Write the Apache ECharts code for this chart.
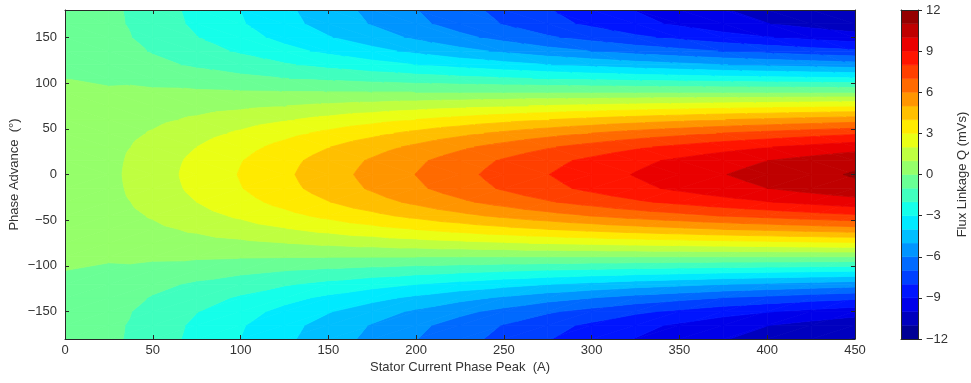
<!DOCTYPE html>
<html>
<head>
<meta charset="utf-8">
<script src="https://cdn.jsdelivr.net/npm/echarts@6/dist/echarts.min.js"></script>
<style>
html,body{margin:0;padding:0;background:#fff;}
#chart{width:971px;height:383px;}
</style>
</head>
<body>
<div id="chart"></div>
<script>
// ---- data ----
const currents = [0, 25, 50, 75, 100, 125, 150, 175, 200, 225, 250, 275, 300, 325, 350, 375, 400, 425, 450];
const phases = [-180, -165, -150, -135, -120, -105, -90, -75, -60, -45, -30, -15, 0, 15, 30, 45, 60, 75, 90, 105, 120, 135, 150, 165, 180];

// flux linkage Q (mVs) along the current grid, one row per phase advance
const qM180 = [0, -0.76, -1.51, -2.27, -3.01, -3.80, -4.55, -5.25, -5.97, -6.65, -7.30, -7.95, -8.48, -9.03, -9.48, -9.95, -10.33, -10.70, -11.05];
const qM165 = [0, -0.73, -1.46, -2.19, -2.91, -3.67, -4.39, -5.07, -5.77, -6.42, -7.05, -7.68, -8.19, -8.72, -9.16, -9.61, -9.98, -10.34, -10.67];
const qM150 = [0, -0.66, -1.31, -1.97, -2.61, -3.29, -3.94, -4.55, -5.17, -5.76, -6.32, -6.88, -7.34, -7.82, -8.21, -8.62, -8.95, -9.27, -9.57];
const qM135 = [0, -0.54, -1.07, -1.61, -2.13, -2.69, -3.22, -3.71, -4.22, -4.70, -5.16, -5.62, -6.00, -6.39, -6.70, -7.04, -7.30, -7.57, -7.81];
const qM120 = [0, -0.38, -0.76, -1.14, -1.51, -1.90, -2.28, -2.63, -2.99, -3.33, -3.65, -3.98, -4.24, -4.52, -4.74, -4.98, -5.17, -5.35, -5.53];
const qM105 = [0, -0.15, -0.33, -0.54, -0.75, -0.98, -1.18, -1.36, -1.55, -1.72, -1.89, -2.06, -2.20, -2.34, -2.45, -2.58, -2.67, -2.77, -2.86];
const qM90  = [0, 0.12, 0.16, 0.14, 0.08, 0.05, 0.03, 0.01, 0, 0, 0, 0, 0, 0, 0, 0, 0, 0, 0];
const qM75  = [0, 0.20, 0.40, 0.60, 0.79, 0.99, 1.19, 1.37, 1.56, 1.74, 1.91, 2.07, 2.21, 2.34, 2.46, 2.58, 2.68, 2.78, 2.87];
const qM60  = [0, 0.39, 0.77, 1.16, 1.53, 1.91, 2.29, 2.66, 3.01, 3.36, 3.69, 3.99, 4.27, 4.53, 4.76, 4.99, 5.18, 5.37, 5.55];
const qM45  = [0, 0.54, 1.09, 1.63, 2.16, 2.70, 3.24, 3.75, 4.26, 4.75, 5.21, 5.64, 6.03, 6.41, 6.73, 7.05, 7.32, 7.59, 7.85];
const qM30  = [0, 0.67, 1.33, 2.00, 2.65, 3.31, 3.97, 4.60, 5.21, 5.82, 6.38, 6.91, 7.39, 7.85, 8.24, 8.63, 8.96, 9.29, 9.61];
const qM15  = [0, 0.74, 1.49, 2.23, 2.96, 3.69, 4.42, 5.13, 5.82, 6.49, 7.12, 7.71, 8.24, 8.75, 9.20, 9.63, 10.00, 10.37, 10.72];
const q0    = [0, 0.77, 1.54, 2.31, 3.06, 3.82, 4.58, 5.31, 6.02, 6.72, 7.37, 7.98, 8.53, 9.06, 9.52, 9.97, 10.35, 10.73, 11.10];
const q15   = [0, 0.74, 1.49, 2.23, 2.96, 3.69, 4.42, 5.13, 5.82, 6.49, 7.12, 7.71, 8.24, 8.75, 9.20, 9.63, 10.00, 10.37, 10.72];
const q30   = [0, 0.67, 1.33, 2.00, 2.65, 3.31, 3.97, 4.60, 5.21, 5.82, 6.38, 6.91, 7.39, 7.85, 8.24, 8.63, 8.96, 9.29, 9.61];
const q45   = [0, 0.54, 1.09, 1.63, 2.16, 2.70, 3.24, 3.75, 4.26, 4.75, 5.21, 5.64, 6.03, 6.41, 6.73, 7.05, 7.32, 7.59, 7.85];
const q60   = [0, 0.39, 0.77, 1.16, 1.53, 1.91, 2.29, 2.66, 3.01, 3.36, 3.69, 3.99, 4.27, 4.53, 4.76, 4.99, 5.18, 5.37, 5.55];
const q75   = [0, 0.20, 0.40, 0.60, 0.79, 0.99, 1.19, 1.37, 1.56, 1.74, 1.91, 2.07, 2.21, 2.34, 2.46, 2.58, 2.68, 2.78, 2.87];
const q90   = [0, 0.12, 0.16, 0.14, 0.08, 0.05, 0.03, 0.01, 0, 0, 0, 0, 0, 0, 0, 0, 0, 0, 0];
const q105  = [0, -0.15, -0.33, -0.54, -0.75, -0.98, -1.18, -1.36, -1.55, -1.72, -1.89, -2.06, -2.20, -2.34, -2.45, -2.58, -2.67, -2.77, -2.86];
const q120  = [0, -0.38, -0.76, -1.14, -1.51, -1.90, -2.28, -2.63, -2.99, -3.33, -3.65, -3.98, -4.24, -4.52, -4.74, -4.98, -5.17, -5.35, -5.53];
const q135  = [0, -0.54, -1.07, -1.61, -2.13, -2.69, -3.22, -3.71, -4.22, -4.70, -5.16, -5.62, -6.00, -6.39, -6.70, -7.04, -7.30, -7.57, -7.81];
const q150  = [0, -0.66, -1.31, -1.97, -2.61, -3.29, -3.94, -4.55, -5.17, -5.76, -6.32, -6.88, -7.34, -7.82, -8.21, -8.62, -8.95, -9.27, -9.57];
const q165  = [0, -0.73, -1.46, -2.19, -2.91, -3.67, -4.39, -5.07, -5.77, -6.42, -7.05, -7.68, -8.19, -8.72, -9.16, -9.61, -9.98, -10.34, -10.67];
const q180  = [0, -0.76, -1.51, -2.27, -3.01, -3.80, -4.55, -5.25, -5.97, -6.65, -7.30, -7.95, -8.48, -9.03, -9.48, -9.95, -10.33, -10.70, -11.05];

// contour levels and tick labels
const levels = [-12, -11, -10, -9, -8, -7, -6, -5, -4, -3, -2, -1, 0, 1, 2, 3, 4, 5, 6, 7, 8, 9, 10, 11, 12];
const xTicks = [0, 50, 100, 150, 200, 250, 300, 350, 400, 450];
const yTicks = [-150, -100, -50, 0, 50, 100, 150];
const cbTicks = [-12, -9, -6, -3, 0, 3, 6, 9, 12];

// ---- styling ----
const bandColors = ['#000095', '#0000BF', '#0000EA', '#0015FF', '#0040FF', '#006AFF', '#0095FF', '#00BFFF',
  '#00EAFF', '#15FFEA', '#40FFBF', '#6AFF95', '#95FF6A', '#BFFF40', '#EAFF15', '#FFEA00',
  '#FFBF00', '#FF9500', '#FF6A00', '#FF4000', '#FF1500', '#EA0000', '#BF0000', '#950000'];

const fluxGrid = [qM180, qM165, qM150, qM135, qM120, qM105, qM90, qM75, qM60, qM45, qM30, qM15,
  q0, q15, q30, q45, q60, q75, q90, q105, q120, q135, q150, q165, q180];

const FONT = "'Liberation Sans', Arial, Helvetica, sans-serif";
const TXT = '#333333';
const LINE = '#262626';
const fmtMinus = v => String(v).replace('-', '\u2212');

function clipHalf(poly, f) {
  const out = [];
  const n = poly.length;
  for (let i = 0; i < n; i++) {
    const a = poly[i], b = poly[(i + 1) % n];
    const fa = f(a), fb = f(b);
    if (fa >= 0) out.push(a);
    if ((fa >= 0) !== (fb >= 0)) {
      const t = fa / (fa - fb);
      out.push([a[0] + t * (b[0] - a[0]), a[1] + t * (b[1] - a[1]), a[2] + t * (b[2] - a[2])]);
    }
  }
  return out;
}

const cells = [];
for (let j = 0; j < phases.length - 1; j++) {
  for (let i = 0; i < currents.length - 1; i++) cells.push([i, j]);
}
const cbData = bandColors.map((c, k) => [k]);

function renderCell(params, api) {
  const i = api.value(0), j = api.value(1);
  const P = (ii, jj) => [currents[ii], phases[jj], fluxGrid[jj][ii]];
  let tris;
  if (phases[j] >= 0) {
    // mirrored diagonal in the upper half keeps the picture symmetric
    tris = [[P(i, j), P(i + 1, j), P(i, j + 1)], [P(i + 1, j), P(i + 1, j + 1), P(i, j + 1)]];
  } else {
    tris = [[P(i, j), P(i + 1, j), P(i + 1, j + 1)], [P(i, j), P(i + 1, j + 1), P(i, j + 1)]];
  }
  const children = [];
  tris.forEach(tri => {
    const vals = tri.map(p => p[2]);
    const mn = Math.min.apply(null, vals), mx = Math.max.apply(null, vals);
    for (let k = 0; k < bandColors.length; k++) {
      const lo = levels[k], hi = levels[k + 1];
      if (hi < mn || lo > mx) continue;
      let poly = clipHalf(tri, p => p[2] - lo);
      if (poly.length < 3) continue;
      poly = clipHalf(poly, p => hi - p[2]);
      if (poly.length < 3) continue;
      const pts = poly.map(p => api.coord([p[0], p[1]]));
      let area = 0;
      for (let m = 0; m < pts.length; m++) {
        const a = pts[m], b = pts[(m + 1) % pts.length];
        area += a[0] * b[1] - b[0] * a[1];
      }
      if (Math.abs(area) < 0.02) continue;
      children.push({
        type: 'polygon', silent: true,
        shape: { points: pts },
        style: { fill: bandColors[k], stroke: bandColors[k], lineWidth: 0.8 }
      });
    }
  });
  return { type: 'group', children: children };
}

function renderBand(params, api) {
  const k = api.value(0);
  const p1 = api.coord([0, levels[k + 1]]);
  const p2 = api.coord([1, levels[k]]);
  return {
    type: 'rect', silent: true,
    shape: { x: p1[0], y: p1[1], width: p2[0] - p1[0], height: p2[1] - p1[1] },
    style: { fill: bandColors[k], stroke: bandColors[k], lineWidth: 0.5 }
  };
}

const lineOnly = {
  axisLine: { show: true, onZero: false, lineStyle: { color: LINE, width: 1 } },
  axisTick: { show: false }, axisLabel: { show: false }, splitLine: { show: false }
};

const chart = echarts.init(document.getElementById('chart'), null, { renderer: 'canvas' });
chart.setOption({
  animation: false,
  backgroundColor: '#ffffff',
  textStyle: { fontFamily: FONT },
  grid: [
    { left: 65, right: 116, top: 10, bottom: 44, containLabel: false, outerBoundsMode: 'none' },
    { left: 901, width: 17, top: 10, bottom: 44, containLabel: false, outerBoundsMode: 'none' }
  ],
  xAxis: [
    {
      gridIndex: 0, type: 'value', position: 'bottom', min: 0, max: 450, interval: 50, z: 10,
      axisLine: { show: true, onZero: false, lineStyle: { color: LINE, width: 1 } },
      axisTick: { show: true, inside: true, length: 4, lineStyle: { color: LINE } },
      axisLabel: { show: true, color: TXT, fontSize: 13, fontFamily: FONT, margin: 5, showMinLabel: true, showMaxLabel: true },
      splitLine: { show: false },
      name: 'Stator Current Phase Peak  (A)', nameLocation: 'middle', nameGap: 22, nameMoveOverlap: false,
      nameTextStyle: { color: TXT, fontSize: 13, fontFamily: FONT }
    },
    {
      gridIndex: 0, type: 'value', position: 'top', min: 0, max: 450, interval: 50, z: 10,
      axisLine: { show: true, onZero: false, lineStyle: { color: LINE, width: 1 } },
      axisTick: { show: true, inside: true, length: 4, lineStyle: { color: LINE } },
      axisLabel: { show: false }, splitLine: { show: false }
    },
    Object.assign({ gridIndex: 1, type: 'value', position: 'bottom', min: 0, max: 1, z: 10 }, lineOnly),
    Object.assign({ gridIndex: 1, type: 'value', position: 'top', min: 0, max: 1, z: 10 }, lineOnly)
  ],
  yAxis: [
    {
      gridIndex: 0, type: 'value', position: 'left', min: -180, max: 180, z: 10,
      axisLine: { show: true, onZero: false, lineStyle: { color: LINE, width: 1 } },
      axisTick: { show: true, inside: true, length: 4, customValues: yTicks, lineStyle: { color: LINE } },
      axisLabel: { show: true, color: TXT, fontSize: 13, fontFamily: FONT, margin: 8, customValues: yTicks, formatter: fmtMinus },
      splitLine: { show: false },
      name: 'Phase Advance  (\u00B0)', nameLocation: 'middle', nameGap: 44, nameRotate: 90, nameMoveOverlap: false,
      nameTextStyle: { color: TXT, fontSize: 13, fontFamily: FONT }
    },
    {
      gridIndex: 0, type: 'value', position: 'right', min: -180, max: 180, z: 10,
      axisLine: { show: true, onZero: false, lineStyle: { color: LINE, width: 1 } },
      axisTick: { show: true, inside: true, length: 4, customValues: yTicks, lineStyle: { color: LINE } },
      axisLabel: { show: false }, splitLine: { show: false }
    },
    {
      gridIndex: 1, type: 'value', position: 'right', min: -12, max: 12, interval: 3, z: 10,
      axisLine: { show: true, onZero: false, lineStyle: { color: LINE, width: 1 } },
      axisTick: { show: true, inside: false, length: 4, customValues: cbTicks, lineStyle: { color: LINE } },
      axisLabel: { show: true, color: TXT, fontSize: 13, fontFamily: FONT, margin: 8, customValues: cbTicks, formatter: fmtMinus },
      splitLine: { show: false },
      name: 'Flux Linkage Q (mVs)', nameLocation: 'middle', nameGap: 38, nameRotate: 90, nameMoveOverlap: false,
      nameTextStyle: { color: TXT, fontSize: 13, fontFamily: FONT }
    },
    Object.assign({ gridIndex: 1, type: 'value', position: 'left', min: -12, max: 12, z: 10 }, lineOnly)
  ],
  series: [
    {
      type: 'custom', name: 'Flux Linkage Q', xAxisIndex: 0, yAxisIndex: 0, z: 1, clip: true,
      silent: true, renderItem: renderCell, data: cells
    },
    {
      type: 'custom', name: 'colorbar', xAxisIndex: 2, yAxisIndex: 2, z: 1, clip: true,
      silent: true, renderItem: renderBand, data: cbData
    }
  ]
});
</script>
</body>
</html>
